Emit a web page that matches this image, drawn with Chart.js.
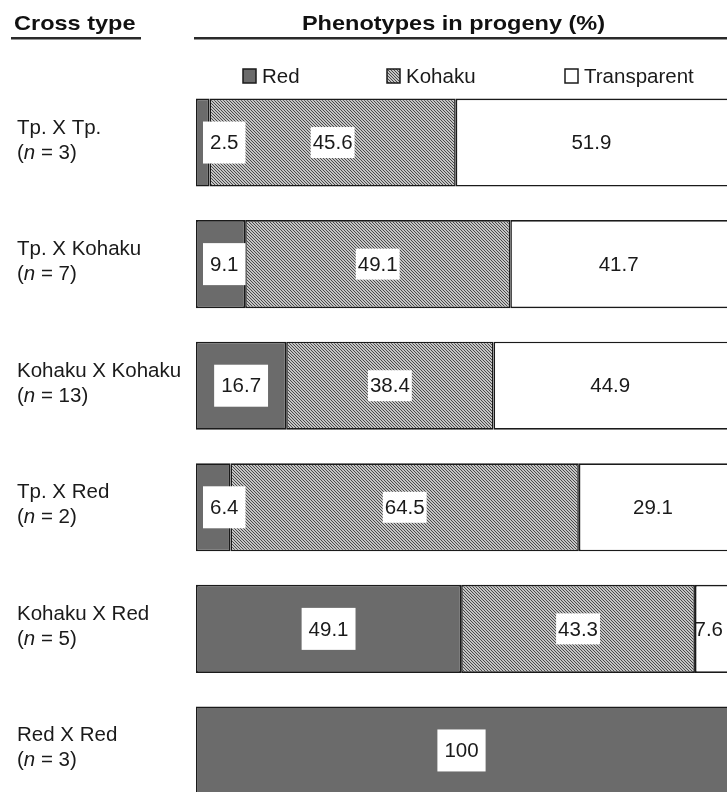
<!DOCTYPE html>
<html><head><meta charset="utf-8">
<script src="https://cdn.jsdelivr.net/npm/chart.js@4"></script>
<style>
html,body{margin:0;padding:0;background:#fff;overflow:hidden;width:727px;height:792px;}
#wrap{position:absolute;left:0;top:0;width:740px;height:820px;}
</style></head><body>
<div id="wrap"><canvas id="c" width="740" height="820"></canvas></div>
<script>
const categories = ["Tp. X Tp.", "Tp. X Kohaku", "Kohaku X Kohaku", "Tp. X Red", "Kohaku X Red", "Red X Red"];
const sampleSizes = [3, 7, 13, 2, 5, 3];
const redValues = [2.5, 9.1, 16.7, 6.4, 49.1, 100];
const kohakuValues = [45.6, 49.1, 38.4, 64.5, 43.3, 0];
const transparentValues = [51.9, 41.7, 44.9, 29.1, 7.6, 0];
const seriesNames = ["Red", "Kohaku", "Transparent"];
const columnTitle = "Cross type";
const chartTitle = "Phenotypes in progeny (%)";

const FONT = '"Liberation Sans", Arial, Helvetica, sans-serif';
const VIEW_RIGHT = 727;
const canvas = document.getElementById('c');
const ctx0 = canvas.getContext('2d');

function makeHatch() {
  const c = document.createElement('canvas');
  c.width = 3; c.height = 3;
  const g = c.getContext('2d');
  g.fillStyle = '#c4c4c4'; g.fillRect(0, 0, 3, 3);
  g.fillStyle = '#4a4a4a';
  for (let i = 0; i < 3; i++) g.fillRect(i, i, 1, 1);
  return ctx0.createPattern(c, 'repeat');
}
const hatch = makeHatch();
const RED_FILL = '#6b6b6b';
const fills = [RED_FILL, hatch, '#ffffff'];
const labelStyles = [
  { padX: 7, h: 42, box: true },
  { padX: 2, h: 31, box: true },
  { padX: 0, h: 0, box: false }
];

const overlay = {
  id: 'overlay',
  afterDraw(chart) {
    const ctx = chart.ctx;
    ctx.save();
    // headers
    ctx.fillStyle = '#111';
    ctx.font = 'bold 21px ' + FONT;
    ctx.textBaseline = 'alphabetic';
    ctx.save(); ctx.translate(14, 30); ctx.scale(1.12, 1); ctx.textAlign = 'left';
    ctx.fillText(columnTitle, 0, 0); ctx.restore();
    ctx.save(); ctx.translate(453.5, 30); ctx.scale(1.12, 1); ctx.textAlign = 'center';
    ctx.fillText(chartTitle, 0, 0); ctx.restore();
    ctx.fillStyle = '#2a2a2a';
    ctx.fillRect(11, 37, 130, 2.5);
    ctx.fillRect(194, 37, 546, 2.5);

    // legend
    const lx = [243, 387, 565];
    ctx.font = '20.5px ' + FONT;
    ctx.textAlign = 'left';
    chart.data.datasets.forEach((ds, i) => {
      ctx.fillStyle = fills[i];
      ctx.fillRect(lx[i], 69, 13, 14);
      ctx.strokeStyle = '#1a1a1a'; ctx.lineWidth = 1.5;
      ctx.strokeRect(lx[i], 69, 13, 14);
      ctx.fillStyle = '#1a1a1a';
      ctx.fillText(ds.label, lx[i] + 19, 83);
    });

    // category labels
    const ys = chart.scales.y;
    categories.forEach((cat, j) => {
      const y = ys.getPixelForValue(j);
      ctx.fillStyle = '#1a1a1a';
      ctx.font = '20.5px ' + FONT;
      ctx.fillText(cat, 17, y - 9);
      let x = 17;
      const y2 = y + 16;
      ctx.fillText('(', x, y2); x += ctx.measureText('(').width;
      ctx.font = 'italic 20.5px ' + FONT;
      ctx.fillText('n', x, y2); x += ctx.measureText('n').width;
      ctx.font = '20.5px ' + FONT;
      ctx.fillText(' = ' + sampleSizes[j] + ')', x, y2);
    });

    // value labels
    ctx.font = '20.5px ' + FONT;
    ctx.textAlign = 'center';
    ctx.textBaseline = 'middle';
    chart.data.datasets.forEach((ds, i) => {
      const meta = chart.getDatasetMeta(i);
      const st = labelStyles[i];
      meta.data.forEach((el, j) => {
        const v = ds.data[j];
        if (!v) return;
        const left = Math.min(el.x, el.base);
        const right = Math.min(Math.max(el.x, el.base), VIEW_RIGHT);
        const text = String(v);
        const w = ctx.measureText(text).width;
        const bw = w + 2 * st.padX;
        let cx = (left + right) / 2;
        cx = Math.max(cx, left + 7 + bw / 2);
        cx = Math.min(cx, VIEW_RIGHT - bw / 2 - 4);
        const cy = el.y;
        if (st.box) {
          ctx.fillStyle = '#fff';
          ctx.fillRect(cx - bw / 2, cy - st.h / 2, bw, st.h);
        }
        ctx.fillStyle = '#1a1a1a';
        ctx.fillText(text, cx, cy + 1);
      });
    });
    ctx.restore();
  }
};

new Chart(canvas, {
  type: 'bar',
  data: {
    labels: categories,
    datasets: [
      { label: seriesNames[0], data: redValues, backgroundColor: fills[0] },
      { label: seriesNames[1], data: kohakuValues, backgroundColor: fills[1] },
      { label: seriesNames[2], data: transparentValues, backgroundColor: fills[2] }
    ]
  },
  options: {
    indexAxis: 'y',
    responsive: false,
    animation: false,
    layout: { padding: { left: 196, right: 4, top: 81.75, bottom: 8.75 } },
    scales: {
      x: { stacked: true, min: 0, max: 100, display: false },
      y: { stacked: true, display: false }
    },
    datasets: {
      bar: { barPercentage: 0.724, categoryPercentage: 1, borderColor: '#1a1a1a', borderWidth: 1.6, borderSkipped: false }
    },
    plugins: { legend: { display: false }, tooltip: { enabled: false } }
  },
  plugins: [overlay]
});
</script>
</body></html>
